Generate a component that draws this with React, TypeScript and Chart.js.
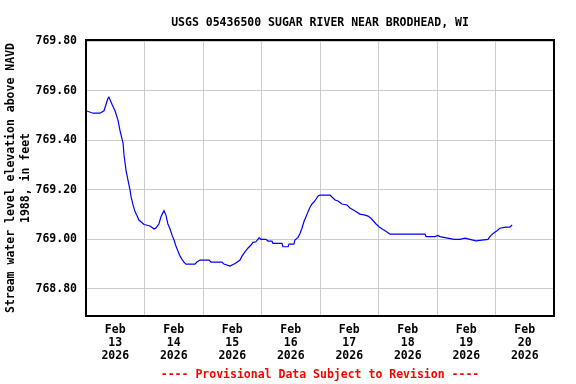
import { useEffect, useRef } from 'react';
import { Chart, registerables } from 'chart.js';

Chart.register(...registerables);

// Hours since Feb 13 2026 00:00
const hours = [
  0, 2.9, 5.7, 7.4, 8.2, 9.0, 9.4, 10.7, 11.9, 13.1, 13.95, 15.2, 15.6, 16.4, 17.2, 18.05, 18.5, 19.3, 20.1, 21.0,
  21.7, 23.8, 26.3, 27.9, 28.7, 29.9, 30.8, 31.6, 32.0, 32.8, 33.6, 34.5, 35.3, 36.1, 36.9, 37.7, 38.6, 39.4, 40.2, 41.0,
  44.7, 45.5, 46.8, 50.5, 51.3, 55.8, 56.6, 59.1, 61.5, 63.2, 64.0, 65.2, 66.5, 67.7, 68.5, 69.7, 71.0, 71.8, 73.8, 74.7,
  76.3, 76.7, 80.4, 80.8, 82.9, 83.3, 85.3, 85.7, 87.0, 87.8, 88.6, 89.4, 90.3, 91.1, 91.9, 92.7, 93.5, 94.4, 95.2, 96.0,
  100.1, 100.9, 102.2, 103.4, 105.0, 107.1, 108.3, 110.4, 112.4, 114.5, 115.7, 116.9, 118.2, 119.0, 120.2, 121.4, 122.7, 123.9, 124.7, 139.1,
  139.5, 143.2, 144.4, 145.2, 151.0, 153.4, 155.5, 157.5, 160.0, 164.9, 165.7, 167.0, 168.6, 169.8, 172.3, 173.9, 174.8,
];

// Stream water level elevation, feet
const elevation = [
  769.52, 769.51, 769.51, 769.52, 769.545, 769.57, 769.575, 769.545, 769.52, 769.483, 769.44, 769.389, 769.341, 769.28, 769.24, 769.2, 769.172, 769.139, 769.112, 769.094,
  769.078, 769.06, 769.054, 769.042, 769.046, 769.062, 769.092, 769.108, 769.116, 769.098, 769.062, 769.042, 769.017, 768.997, 768.973, 768.953, 768.932, 768.919, 768.908, 768.9,
  768.9, 768.908, 768.916, 768.916, 768.908, 768.908, 768.9, 768.892, 768.904, 768.916, 768.932, 768.949, 768.965, 768.977, 768.988, 768.99, 769.006, 769.0, 769.0, 768.993,
  768.993, 768.984, 768.984, 768.97, 768.97, 768.981, 768.981, 768.997, 769.008, 769.024, 769.045, 769.071, 769.092, 769.112, 769.13, 769.143, 769.151, 769.163, 769.175, 769.179,
  769.179, 769.171, 769.159, 769.155, 769.143, 769.139, 769.127, 769.115, 769.102, 769.098, 769.094, 769.085, 769.071, 769.062, 769.051, 769.043, 769.035, 769.027, 769.021, 769.021,
  769.011, 769.011, 769.016, 769.011, 769.0, 769.0, 769.005, 769.0, 768.994, 769.0, 769.011, 769.024, 769.035, 769.045, 769.049, 769.049, 769.058,
];

const monthLabel = 'Feb';
const dayLabels = ['13', '14', '15', '16', '17', '18', '19', '20'];
const yearLabel = '2026';
const yTicks = [768.8, 769.0, 769.2, 769.4, 769.6, 769.8];
const chartTitle = 'USGS 05436500 SUGAR RIVER NEAR BRODHEAD, WI';
const footerText = '---- Provisional Data Subject to Revision ----';
const yTitle = ['Stream water level elevation above NAVD', '1988, in feet'];

const FONT = "'DejaVu Sans Mono', 'Liberation Mono', monospace";

export default function App() {
  const ref = useRef<HTMLCanvasElement>(null);

  useEffect(() => {
    document.body.style.margin = '0';
    const canvas = ref.current;
    if (!canvas) return;

    const frame = {
      id: 'frame',
      afterDatasetsDraw(chart: any) {
        const { ctx, chartArea: a } = chart;
        ctx.save();
        ctx.strokeStyle = '#000000';
        ctx.lineWidth = 2;
        ctx.strokeRect(a.left, a.top, a.right - a.left, a.bottom - a.top);
        ctx.restore();
      },
    };

    const font = { family: FONT, size: 11.5, weight: 'bold' as const, lineHeight: 1.2 };

    const chart = new Chart(canvas, {
      type: 'line',
      data: {
        datasets: [
          {
            data: hours.map((h, i) => ({ x: h, y: elevation[i] })),
            borderColor: '#0000ff',
            borderWidth: 1.2,
            pointRadius: 0,
            tension: 0,
            fill: false,
          },
        ],
      },
      options: {
        responsive: false,
        animation: false,
        devicePixelRatio: 1,
        layout: { padding: { left: 0, right: 22, top: 0, bottom: 0 } },
        plugins: {
          legend: { display: false },
          tooltip: { enabled: false },
          title: {
            display: true,
            text: chartTitle,
            fullSize: false,
            color: '#000000',
            font,
            padding: { top: 15.8, bottom: 10.4 },
          },
          subtitle: {
            display: true,
            text: footerText,
            position: 'bottom',
            fullSize: false,
            color: '#ff0000',
            font,
            padding: { top: 4, bottom: 2 },
          },
        },
        scales: {
          x: {
            type: 'linear',
            min: 0,
            max: 192,
            afterBuildTicks: (s: any) => {
              const t = [];
              for (let v = 0; v <= 192; v += 12) t.push({ value: v });
              s.ticks = t;
            },
            afterFit: (s: any) => {
              s.height = 48.2;
            },
            grid: {
              color: (c: any) => (c.tick && c.tick.value % 24 === 0 ? '#cccccc' : 'rgba(0,0,0,0)'),
              drawTicks: false,
              lineWidth: 1,
            },
            border: { display: false },
            ticks: {
              autoSkip: false,
              maxRotation: 0,
              minRotation: 0,
              padding: 8,
              color: '#000000',
              font: { ...font, lineHeight: 1.12 },
              callback: (v: any) => {
                const n = Number(v);
                if (n % 24 === 12) {
                  const d = dayLabels[(n - 12) / 24];
                  return [monthLabel, d, yearLabel];
                }
                return '';
              },
            },
          },
          y: {
            type: 'linear',
            min: 768.69,
            max: 769.806,
            afterBuildTicks: (s: any) => {
              s.ticks = yTicks.map((v) => ({ value: v }));
            },
            afterFit: (s: any) => {
              s.width = 86;
            },
            grid: { color: '#cccccc', drawTicks: false, lineWidth: 1 },
            border: { display: false },
            ticks: {
              padding: 9,
              color: '#000000',
              font,
              callback: (v: any) => Number(v).toFixed(2),
            },
            title: {
              display: true,
              text: yTitle,
              color: '#000000',
              font: { ...font, lineHeight: 1.3 },
              padding: { top: 4, bottom: 0 },
            },
          },
        },
      },
      plugins: [frame],
    });

    return () => chart.destroy();
  }, []);

  return <canvas ref={ref} width={576} height={384} style={{ display: 'block' }} />;
}
